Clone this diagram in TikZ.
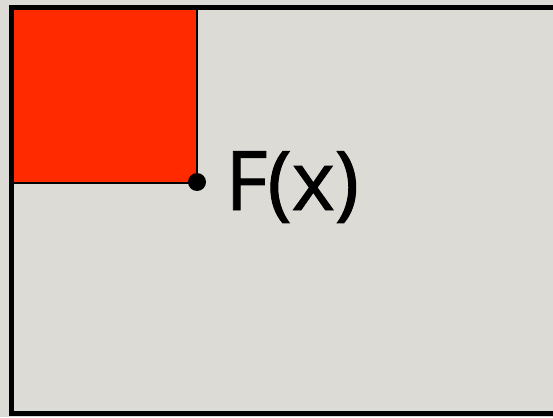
\documentclass[tikz,border=0pt]{standalone}
\usepackage{fontspec}
\newfontfamily\labelfont{Open Sans}[FakeBold=1.2]
\definecolor{paper}{RGB}{221,219,213}
\definecolor{square}{RGB}{255,42,0}
\begin{document}
\begin{tikzpicture}[
        x=1pt, y=-1pt,
        frame/.style={line width=5pt},
        edge/.style={line width=1.5pt},
        label/.style={font=\labelfont\fontsize{82}{85}\selectfont, inner sep=0pt, anchor=base west}
    ]
        % Paper
        \fill[paper] (0, 0) rectangle (553, 417);
        \useasboundingbox (0, 0) rectangle (553, 417);
        \clip (0, 0) rectangle (553, 417);

        % Red square with its corner
        \fill[square] (11.5, 7.5) rectangle (197, 183);
        \draw[edge] (11.5, 183) -- (197, 183) -- (197, 7.5);
        \coordinate (corner) at (197, 182);
        \fill (corner) circle[radius=9pt];

        % Frame, open to the right
        \draw[frame] (600, 7.5) -- (11.5, 7.5) -- (11.5, 413.5) -- (600, 413.5);

        % Label
        \node[label] (fx) at (225, 210) {F(x)};
    \end{tikzpicture}
\end{document}
